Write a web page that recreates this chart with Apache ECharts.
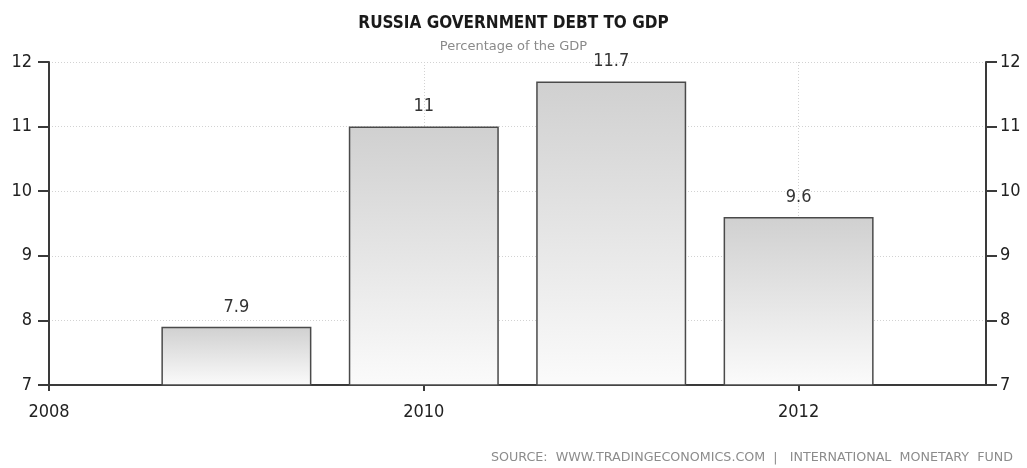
<!DOCTYPE html>
<html>
<head>
<meta charset="utf-8">
<script src="https://cdn.jsdelivr.net/npm/echarts@6/dist/echarts.min.js"></script>
<style>
  html, body { margin: 0; padding: 0; background: #fff; }
  #chart { width: 1027px; height: 468px; }
</style>
</head>
<body>
<div id="chart"></div>
<script>
// Russia government debt as a share of GDP, by year
const years = [2009, 2010, 2011, 2012];
const debtToGdp = [7.9, 11, 11.7, 9.6];
const yTicks = [7, 8, 9, 10, 11, 12];

const titleText = 'RUSSIA GOVERNMENT DEBT TO GDP';
const subtitleText = 'Percentage of the GDP';
const sourceText = 'SOURCE:  WWW.TRADINGECONOMICS.COM  |   INTERNATIONAL  MONETARY  FUND';

const FONT = '"DejaVu Sans Condensed", "DejaVu Sans", sans-serif';
const WIDE_FONT = '"DejaVu Sans", sans-serif';
const axisColor = '#3a3a3a';
const gridLine = { show: true, lineStyle: { color: '#d2d2d2', type: [1, 2], width: 1 } };

const yAxisBase = {
  type: 'value',
  min: yTicks[0],
  max: yTicks[yTicks.length - 1],
  interval: 1,
  axisLine: { show: true, lineStyle: { color: axisColor, width: 2 } },
  axisTick: { show: true, inside: false, length: 11, lineStyle: { color: axisColor, width: 2 } },
  axisLabel: { color: '#222', fontFamily: FONT, fontSize: 18 }
};

const chart = echarts.init(document.getElementById('chart'), null, { renderer: 'canvas' });
chart.setOption({
  animation: false,
  backgroundColor: '#ffffff',
  title: [
    {
      text: titleText,
      left: 'center',
      top: 10,
      textStyle: { fontFamily: FONT, fontSize: 17, fontWeight: 'bold', color: '#1a1a1a' }
    },
    {
      text: subtitleText,
      left: 'center',
      top: 35,
      textStyle: { fontFamily: WIDE_FONT, fontSize: 13, fontWeight: 'normal', color: '#8a8a8a' }
    }
  ],
  grid: { left: 49, right: 41, top: 62, bottom: 83, containLabel: false },
  xAxis: {
    type: 'value',
    min: 2008,
    max: 2013,
    interval: 2,
    axisLine: { show: true, lineStyle: { color: axisColor, width: 2 } },
    axisTick: { show: true, length: 6, lineStyle: { color: axisColor, width: 2 } },
    axisLabel: {
      color: '#222', fontFamily: FONT, fontSize: 18, margin: 18,
      showMaxLabel: false,
      formatter: v => String(v)
    },
    splitLine: gridLine
  },
  yAxis: [
    Object.assign({}, yAxisBase, {
      position: 'left',
      axisLabel: Object.assign({}, yAxisBase.axisLabel, { margin: 17 }),
      splitLine: gridLine
    }),
    Object.assign({}, yAxisBase, {
      position: 'right',
      axisLabel: Object.assign({}, yAxisBase.axisLabel, { margin: 14 }),
      splitLine: { show: false }
    })
  ],
  series: [
    {
      type: 'bar',
      yAxisIndex: 0,
      barWidth: 150,
      data: years.map((y, i) => [y, debtToGdp[i]]),
      itemStyle: {
        color: new echarts.graphic.LinearGradient(0, 0, 0, 1, [
          { offset: 0, color: '#d0d0d0' },
          { offset: 1, color: '#fbfbfb' }
        ]),
        borderColor: '#4a4a4a',
        borderWidth: 1.5
      },
      label: {
        show: true,
        position: 'top',
        distance: 11,
        color: '#333',
        fontFamily: FONT,
        fontSize: 18,
        formatter: p => String(p.value[1])
      }
    }
  ],
  graphic: [
    {
      type: 'text',
      right: 14,
      top: 451,
      style: {
        text: sourceText,
        fill: '#8c8c8c',
        font: '12.7px ' + WIDE_FONT
      }
    }
  ]
});
</script>
</body>
</html>
